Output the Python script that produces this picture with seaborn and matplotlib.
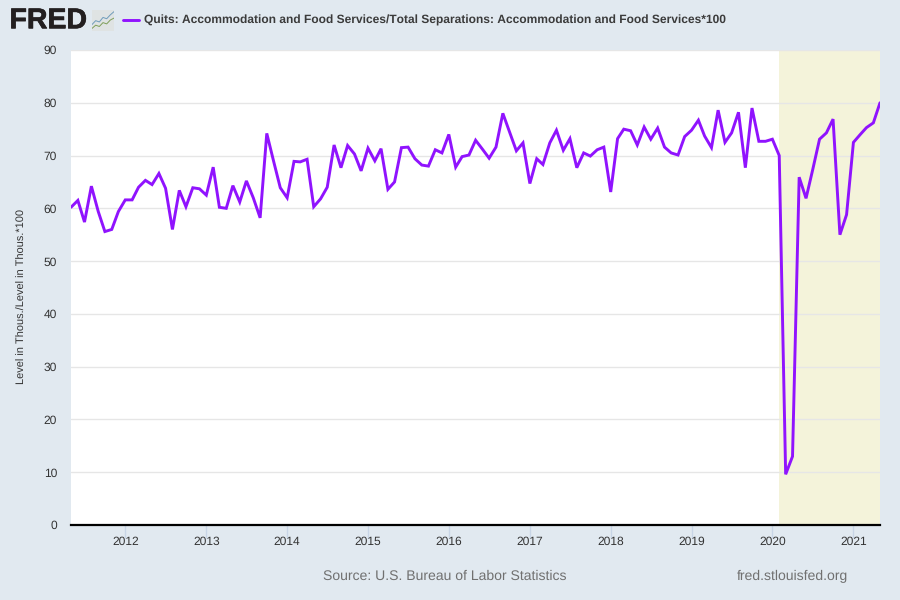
import matplotlib
matplotlib.use("Agg")
import matplotlib.pyplot as plt
import matplotlib.dates as mdates
import matplotlib.patheffects as pe
import numpy as np
import pandas as pd
import seaborn as sns

TITLE = "Quits: Accommodation and Food Services/Total Separations: Accommodation and Food Services*100"
YLABEL = "Level in Thous./Level in Thous.*100"
SOURCE = "Source: U.S. Bureau of Labor Statistics"
SITE = "fred.stlouisfed.org"

v2011 = [60.2, 61.5, 57.4, 64.2, 59.4, 55.6, 56.0, 59.4]
v2012 = [61.6, 61.6, 64.0, 65.3, 64.5, 66.6, 63.8, 56.0, 63.4, 60.3, 63.9, 63.7]
v2013 = [62.5, 67.8, 60.2, 60.0, 64.3, 61.2, 65.2, 62.0, 58.2, 74.2, 68.9, 63.9]
v2014 = [62.0, 68.9, 68.8, 69.3, 60.3, 61.8, 64.0, 72.0, 67.7, 71.9, 70.3, 67.1]
v2015 = [71.4, 69.0, 71.3, 63.6, 65.0, 71.5, 71.6, 69.4, 68.2, 68.0, 71.1, 70.5]
v2016 = [74.0, 67.8, 69.8, 70.1, 72.9, 71.2, 69.5, 71.6, 78.0, 74.5, 70.9, 72.4]
v2017 = [64.7, 69.4, 68.3, 72.4, 74.8, 71.0, 73.2, 67.7, 70.5, 69.9, 71.1, 71.6]
v2018 = [63.1, 73.2, 75.0, 74.7, 72.0, 75.4, 73.1, 75.2, 71.6, 70.5, 70.1, 73.6]
v2019 = [74.8, 76.7, 73.7, 71.5, 78.6, 72.5, 74.3, 78.2, 67.7, 79.0, 72.7, 72.7]
v2020 = [73.1, 70.0, 9.6, 13.0, 65.9, 61.9, 67.3, 73.1, 74.3, 76.9, 55.0, 58.8]
v2021 = [72.5, 74.0, 75.3, 76.2, 80.0]

values = v2011 + v2012 + v2013 + v2014 + v2015 + v2016 + v2017 + v2018 + v2019 + v2020 + v2021
dates = pd.date_range("2011-05-01", periods=len(values), freq="MS")
df = pd.DataFrame({"date": dates, "value": values})

recession_start = pd.Timestamp("2020-02-01")
year_ticks = pd.date_range("2012-01-01", "2021-01-01", freq="YS")
y_ticks = list(range(0, 100, 10))

BG = "#e1e9f0"
LINE = "#9013fe"
GRID = "#e6e6e6"
TXT = "#333333"

sns.set_theme(style="white")
plt.rcParams["font.family"] = ["Liberation Sans", "DejaVu Sans"]
plt.rcParams["text.hinting"] = "no_hinting"
plt.rcParams["text.hinting_factor"] = 1

fig = plt.figure(figsize=(9, 6), dpi=100, facecolor=BG)
ax = fig.add_axes([71 / 900, 75 / 600, 809 / 900, 475 / 600], facecolor="white")

ax.axvspan(recession_start, dates[-1], color="#f4f3da", lw=0, zorder=0)
ax.set_axisbelow(True)
ax.yaxis.grid(True, color=GRID, lw=1)
ax.xaxis.grid(False)
sns.lineplot(data=df, x="date", y="value", ax=ax, color=LINE, lw=2.1, zorder=3,
             solid_joinstyle="miter", errorbar=None)

ax.set_xlim(dates[0], dates[-1])
ax.set_ylim(0, 90)
ax.set_yticks(y_ticks)
ax.set_xticks(year_ticks)
ax.xaxis.set_major_formatter(mdates.DateFormatter("%Y"))
ax.tick_params(axis="x", length=9, width=1, color="#c8d5e6", labelsize=8.5,
               labelcolor=TXT, pad=-1, bottom=True)
ax.tick_params(axis="y", length=0, labelsize=8.5, labelcolor=TXT, pad=10)
ax.set_xlabel("")
ax.set_ylabel("")
for s in ["top", "right", "left"]:
    ax.spines[s].set_visible(False)
ax.spines["bottom"].set_color("black")
ax.spines["bottom"].set_linewidth(1.6)

fig.text(22.5 / 900, 1 - 296 / 600, YLABEL, rotation=90, ha="center", va="center",
         fontsize=7.75, color=TXT)
fig.text(444.5 / 900, 1 - 576.5 / 600, SOURCE, ha="center", va="center", fontsize=9.8, color="#707070")
fig.text(792.5 / 900, 1 - 576.5 / 600, SITE, ha="center", va="center", fontsize=10.05, color="#707070")

# header: logo wordmark, icon, legend key and series name
fig.text(9.5 / 900, 1 - 21 / 600, "FRED", ha="left", va="center", fontsize=20.5,
         fontweight="bold", color="#231f20",
         path_effects=[pe.withStroke(linewidth=0.5, foreground="#231f20")])
icon = fig.add_axes([92 / 900, 1 - 31 / 600, 22 / 900, 21 / 600], facecolor="#dfe3e3")
icon_x = [0, 1, 2, 3, 4, 5, 6]
icon_blue = [2.0, 3.2, 2.8, 4.2, 3.8, 5.0, 6.0]
icon_green = [0.8, 1.8, 1.4, 2.6, 2.2, 3.4, 4.0]
sns.lineplot(x=icon_x, y=icon_blue, ax=icon, color="#6f9cbb", lw=0.7, errorbar=None)
sns.lineplot(x=icon_x, y=icon_green, ax=icon, color="#7f9f5a", lw=0.7, errorbar=None)
icon.set_xlim(0, 6)
icon.set_ylim(0, 6.5)
icon.set_xticks([])
icon.set_yticks([])
icon.set_xlabel("")
icon.set_ylabel("")
for s in icon.spines.values():
    s.set_visible(False)

fig.add_artist(plt.Line2D([123 / 900, 139 / 900], [1 - 20 / 600, 1 - 20 / 600],
                          color=LINE, lw=2.1, transform=fig.transFigure))
fig.text(144 / 900, 1 - 20.5 / 600, TITLE, ha="left", va="center", fontsize=8.62,
         fontweight="bold", color="#3b3b3b")

fig.savefig("out.png", dpi=100, facecolor=BG)
